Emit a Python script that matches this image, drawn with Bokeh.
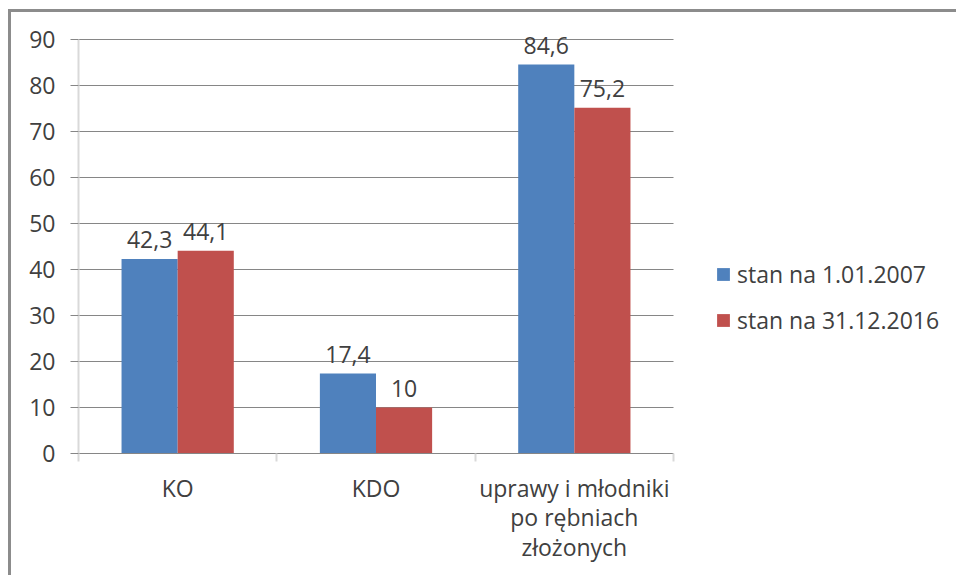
from bokeh.plotting import figure
from bokeh.models import (ColumnDataSource, Range1d, FixedTicker, LinearAxis,
                          Legend, LegendItem)
from bokeh.core.properties import value
from bokeh.transform import dodge
from bokeh.embed import file_html
from bokeh.resources import INLINE

categories = ["KO", "KDO", "uprawy i młodniki\npo rębniach\nzłożonych"]
series_names = ["stan na 1.01.2007", "stan na 31.12.2016"]
values_2007 = [42.3, 17.4, 84.6]
values_2016 = [44.1, 10.0, 75.2]
y_ticks = [0, 10, 20, 30, 40, 50, 60, 70, 80, 90]

BLUE = "#4f81bd"
RED = "#c0504d"
TEXT = "#404040"
GRID = "#868686"
LIGHT = "#d9d9d9"
FONT = "Open Sans"
FS = "23px"
N = len(categories)
Y_AXIS_MAX = 90
Y_VIEW_MAX = 94.6            # headroom so labels above the tallest bar are not clipped
X_VIEW_MAX = N * 881 / 595   # frame extends right so the legend sits inside it

xc = [i + 0.5 for i in range(N)]
def fmt(v):
    return f"{v:g}".replace(".", ",")

src = ColumnDataSource(dict(
    x=xc,
    a=values_2007, b=values_2016,
    ta=[fmt(v) for v in values_2007], tb=[fmt(v) for v in values_2016],
))

p = figure(width=948, height=566, output_backend="svg", toolbar_location=None,
           x_range=Range1d(0, X_VIEW_MAX), y_range=Range1d(0, Y_VIEW_MAX),
           x_axis_location=None, y_axis_location=None,
           min_border_left=67, min_border_top=6, min_border_right=0,
           min_border_bottom=125)
p.outline_line_color = None
p.styles = {"margin-left": "8px", "margin-top": "9px",
            "border-top": "3px solid #8c8c8c", "border-left": "3px solid #8c8c8c"}

W = 0.283
r1 = p.vbar(x=dodge("x", -W / 2, range=p.x_range), top="a", width=W, source=src,
            fill_color=BLUE, line_color=None)
r2 = p.vbar(x=dodge("x", W / 2, range=p.x_range), top="b", width=W, source=src,
            fill_color=RED, line_color=None)

for col, tcol, off in (("a", "ta", -W / 2), ("b", "tb", W / 2)):
    p.text(x=dodge("x", off, range=p.x_range), y=col, text=tcol, source=src,
           text_font=value(FONT), text_font_size=FS, text_color=TEXT,
           text_align="center", text_baseline="alphabetic", y_offset=-19)

# y axis
yax = LinearAxis(ticker=FixedTicker(ticks=y_ticks, minor_ticks=[]), bounds=(0, Y_AXIS_MAX))
yax.axis_line_color = LIGHT
yax.axis_line_width = 2
yax.major_tick_out = 8
yax.major_tick_in = 0
yax.major_tick_line_color = GRID
yax.major_label_standoff = 15
yax.major_label_text_font = FONT
yax.major_label_text_font_size = FS
yax.major_label_text_color = TEXT
p.add_layout(yax, "left")

# x axis
xax = LinearAxis(ticker=FixedTicker(ticks=xc, minor_ticks=list(range(N + 1))), bounds=(0, N))
xax.major_label_overrides = {x: c for x, c in zip(xc, categories)}
xax.axis_line_color = GRID
xax.axis_line_width = 1
xax.major_tick_line_color = None
xax.minor_tick_out = 8
xax.minor_tick_in = 0
xax.minor_tick_line_color = LIGHT
xax.minor_tick_line_width = 2
xax.major_label_standoff = 10
xax.major_label_text_font = FONT
xax.major_label_text_font_size = FS
xax.major_label_text_color = TEXT
xax.major_label_text_line_height = 0.93
p.add_layout(xax, "below")

p.xgrid.visible = False
p.ygrid.ticker = FixedTicker(ticks=y_ticks)
p.ygrid.cross_bounds = (0, N)
p.ygrid.grid_line_color = GRID
p.ygrid.grid_line_width = 1

legend = Legend(items=[LegendItem(label=series_names[0], renderers=[r1]),
                       LegendItem(label=series_names[1], renderers=[r2])],
                location=(637, 117))
legend.border_line_color = None
legend.background_fill_alpha = 0
legend.padding = 0
legend.margin = 0
legend.glyph_width = 16
legend.glyph_height = 16
legend.label_height = 24
legend.spacing = 14
legend.label_standoff = 6
legend.label_text_font = FONT
legend.label_text_font_size = FS
legend.label_text_color = TEXT
p.add_layout(legend, "center")

open("out.html", "w").write(file_html(p, INLINE))
